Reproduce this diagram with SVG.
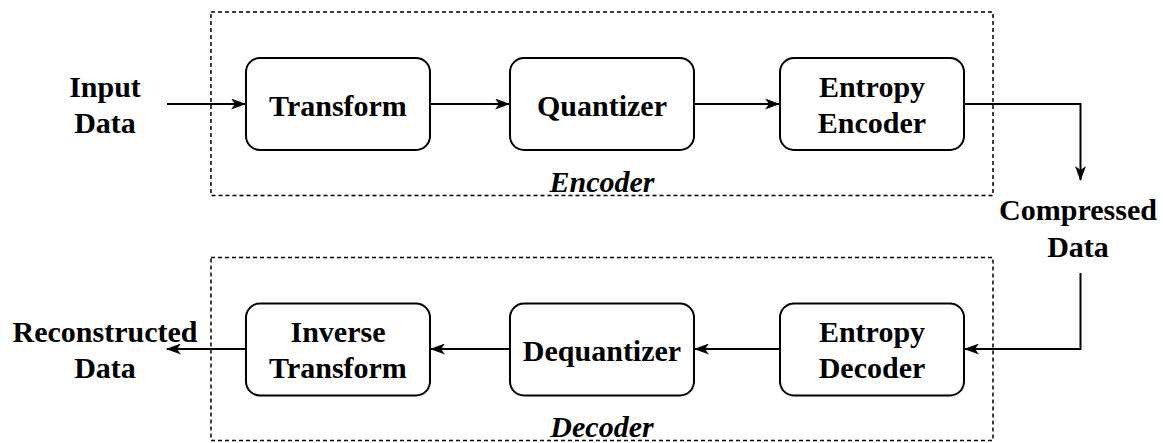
<svg xmlns="http://www.w3.org/2000/svg" width="1163" height="443" viewBox="0 0 1163 443">
<defs>
<style>
.grp{fill:none;stroke:#000;stroke-width:1.5;stroke-dasharray:4 3}
.box{fill:#fff;stroke:#000;stroke-width:2}
.t{font-family:"Liberation Serif","Times New Roman",serif;font-weight:bold;font-size:30px;text-anchor:middle;fill:#000}
.i{font-style:italic}
.c{fill:none;stroke:#000;stroke-width:2}
</style>
<marker id="ah" viewBox="0 0 15 11" refX="14" refY="5.5" markerWidth="15" markerHeight="11" markerUnits="userSpaceOnUse" orient="auto">
<path d="M0,0 L15,5.5 L0,11 L4,5.5 Z" fill="#000"/>
</marker>
</defs>
<g id="encoder-group">
<rect class="grp" x="211" y="12" width="782" height="183.5"/>
<text class="t i" x="602" y="192">Encoder</text>
</g>
<g id="decoder-group">
<rect class="grp" x="211" y="257.5" width="782" height="183"/>
<text class="t i" x="602" y="436.5">Decoder</text>
</g>
<g id="connectors">
<path class="c" d="M167,104 H245" marker-end="url(#ah)"/>
<path class="c" d="M430,104 H509" marker-end="url(#ah)"/>
<path class="c" d="M694,104 H779" marker-end="url(#ah)"/>
<path class="c" d="M964,104 H1080.5 V180" marker-end="url(#ah)"/>
<path class="c" d="M1080.5,273 V349 H965" marker-end="url(#ah)"/>
<path class="c" d="M780,349 H695" marker-end="url(#ah)"/>
<path class="c" d="M510,349 H431" marker-end="url(#ah)"/>
<path class="c" d="M246,349 H167" marker-end="url(#ah)"/>
</g>
<g id="input-data">
<text class="t" x="105" y="96.5">Input</text>
<text class="t" x="105" y="133">Data</text>
</g>
<g id="transform">
<rect class="box" x="246" y="58" width="184" height="92" rx="14"/>
<text class="t" x="338" y="115.5">Transform</text>
</g>
<g id="quantizer">
<rect class="box" x="510" y="58" width="184" height="92" rx="14"/>
<text class="t" x="602" y="115.5">Quantizer</text>
</g>
<g id="entropy-encoder">
<rect class="box" x="780" y="58" width="184" height="92" rx="14"/>
<text class="t" x="872" y="96.5">Entropy</text>
<text class="t" x="872" y="133">Encoder</text>
</g>
<g id="compressed-data">
<text class="t" x="1078" y="220">Compressed</text>
<text class="t" x="1078" y="256.5">Data</text>
</g>
<g id="entropy-decoder">
<rect class="box" x="780" y="303.5" width="184" height="92" rx="14"/>
<text class="t" x="872" y="341.5">Entropy</text>
<text class="t" x="872" y="378">Decoder</text>
</g>
<g id="dequantizer">
<rect class="box" x="510" y="303.5" width="184" height="92" rx="14"/>
<text class="t" x="602" y="360.5">Dequantizer</text>
</g>
<g id="inverse-transform">
<rect class="box" x="246" y="303.5" width="184" height="92" rx="14"/>
<text class="t" x="338" y="341.5">Inverse</text>
<text class="t" x="338" y="378">Transform</text>
</g>
<g id="reconstructed-data">
<text class="t" x="105" y="341.5">Reconstructed</text>
<text class="t" x="105" y="378">Data</text>
</g>
</svg>
